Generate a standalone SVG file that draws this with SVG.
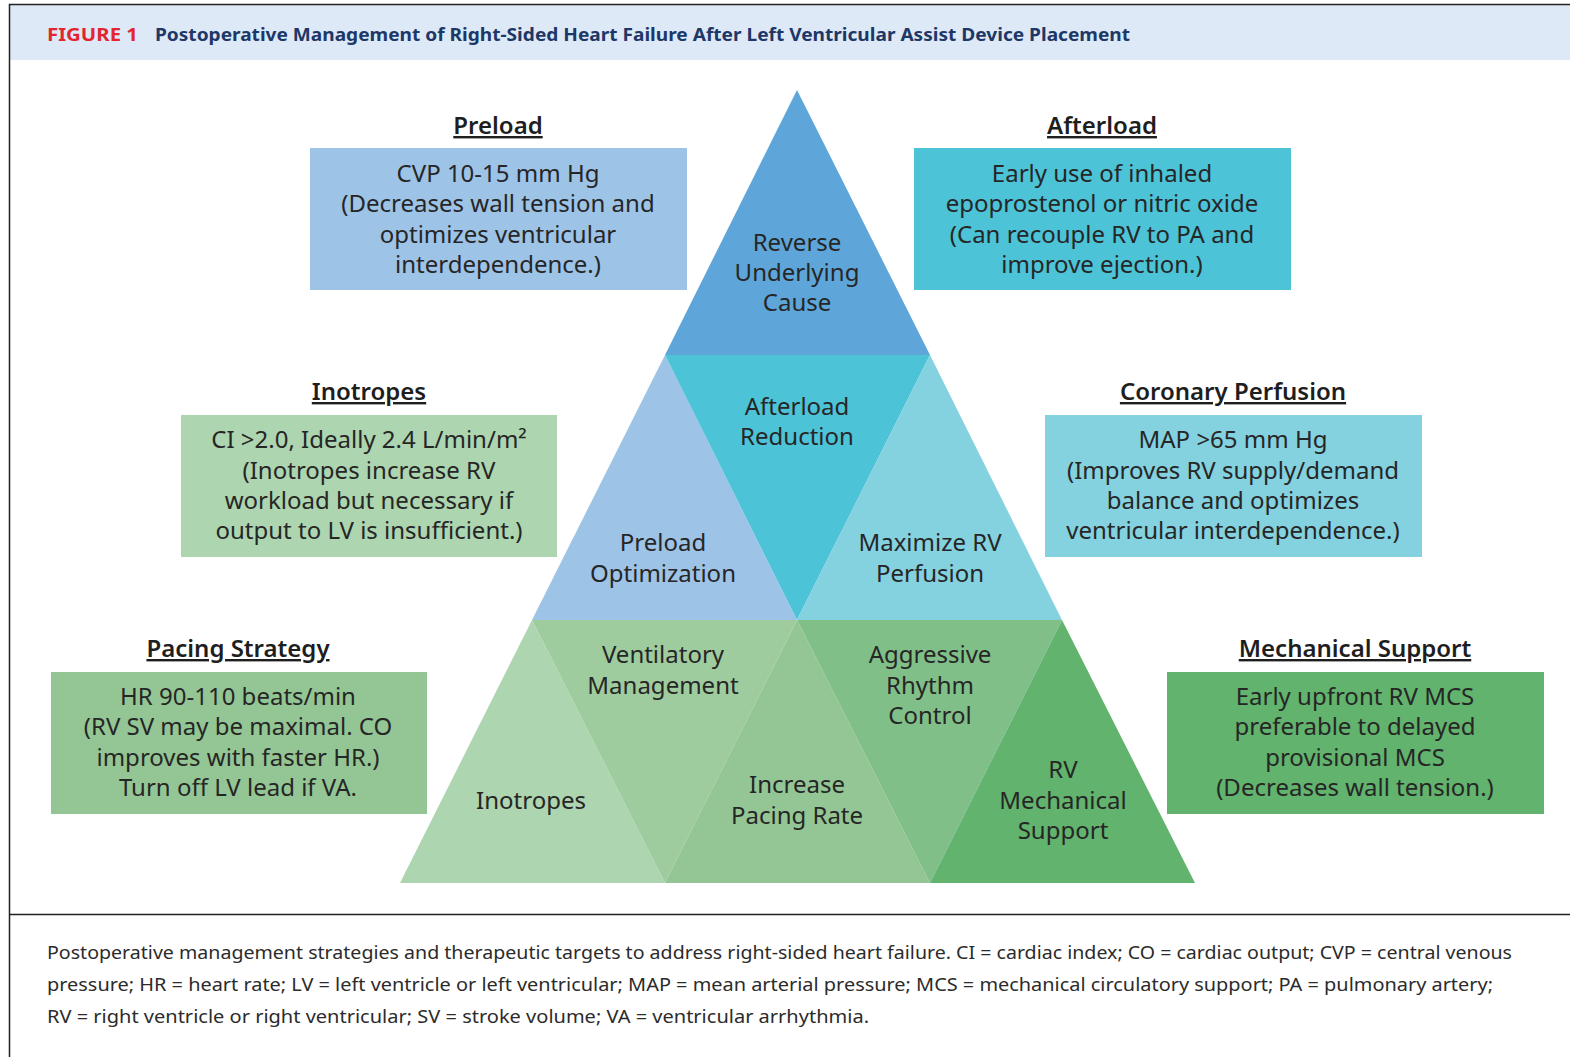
<svg xmlns="http://www.w3.org/2000/svg" width="1570" height="1057" viewBox="0 0 1570 1057">
  <style>
    .lbl { font-family: "Noto Sans", "Open Sans", "Liberation Sans", sans-serif; font-size: 24px; fill: #262626; text-anchor: middle; }
    .head { font-family: "Noto Sans", "Open Sans", "Liberation Sans", sans-serif; font-size: 24px; font-weight: 600; fill: #1e1e1e; text-anchor: middle; text-decoration: underline; }
    .cap { font-family: "Noto Sans", "Liberation Sans", sans-serif; font-size: 18px; fill: #2b2b2b; }
    .title { font-family: "Noto Sans", "Liberation Sans", sans-serif; font-size: 18px; font-weight: 700; }
    .frame { stroke: #222; stroke-width: 1.5; fill: none; }
  </style>

  <rect width="1570" height="1057" fill="#ffffff"/>

  <!-- header band and frame -->
  <rect x="10" y="5" width="1560" height="55" fill="#dde9f6"/>
  <path class="frame" d="M9.5,1057 V4.5 H1570"/>
  <line class="frame" x1="9" y1="914.5" x2="1570" y2="914.5"/>
  <text class="title" x="47" y="41" fill="#e3262e" textLength="91" lengthAdjust="spacingAndGlyphs">FIGURE 1</text>
  <text class="title" x="155" y="41" fill="#1d3767" textLength="975" lengthAdjust="spacingAndGlyphs">Postoperative Management of Right-Sided Heart Failure After Left Ventricular Assist Device Placement</text>

  <!-- pyramid tiers -->
  <g id="tier-reverse-cause">
    <polygon points="797,90 930,355 665,355" fill="#5ea6d9"/>
    <text class="lbl"><tspan x="797" y="251">Reverse</tspan><tspan x="797" y="281">Underlying</tspan><tspan x="797" y="311">Cause</tspan></text>
  </g>
  <g id="tier-preload-optimization">
    <polygon points="665,355 797,620 532,620" fill="#9dc3e7"/>
    <text class="lbl"><tspan x="663" y="551">Preload</tspan><tspan x="663" y="582">Optimization</tspan></text>
  </g>
  <g id="tier-afterload-reduction">
    <polygon points="665,355 930,355 797,620" fill="#4cc3d6"/>
    <text class="lbl"><tspan x="797" y="415">Afterload</tspan><tspan x="797" y="445">Reduction</tspan></text>
  </g>
  <g id="tier-maximize-rv-perfusion">
    <polygon points="930,355 1062,620 797,620" fill="#84d1df"/>
    <text class="lbl"><tspan x="930" y="551">Maximize RV</tspan><tspan x="930" y="582">Perfusion</tspan></text>
  </g>
  <g id="tier-inotropes">
    <polygon points="532,620 665,883 400,883" fill="#acd5b0"/>
    <text class="lbl"><tspan x="531" y="809">Inotropes</tspan></text>
  </g>
  <g id="tier-ventilatory-management">
    <polygon points="532,620 797,620 665,883" fill="#9fcc9f"/>
    <text class="lbl"><tspan x="663" y="663">Ventilatory</tspan><tspan x="663" y="694">Management</tspan></text>
  </g>
  <g id="tier-increase-pacing-rate">
    <polygon points="797,620 930,883 665,883" fill="#93c694"/>
    <text class="lbl"><tspan x="797" y="793">Increase</tspan><tspan x="797" y="824">Pacing Rate</tspan></text>
  </g>
  <g id="tier-aggressive-rhythm-control">
    <polygon points="797,620 1062,620 930,883" fill="#81bf88"/>
    <text class="lbl"><tspan x="930" y="663">Aggressive</tspan><tspan x="930" y="694">Rhythm</tspan><tspan x="930" y="724">Control</tspan></text>
  </g>
  <g id="tier-rv-mechanical-support">
    <polygon points="1062,620 1195,883 930,883" fill="#61b36d"/>
    <text class="lbl"><tspan x="1063" y="778">RV</tspan><tspan x="1063" y="809">Mechanical</tspan><tspan x="1063" y="839">Support</tspan></text>
  </g>

  <!-- target boxes -->
  <g id="box-preload">
    <text class="head" x="498" y="134">Preload</text>
    <rect x="310" y="148" width="377" height="142" fill="#9dc3e7"/>
    <text class="lbl"><tspan x="498" y="182">CVP 10-15 mm Hg</tspan><tspan x="498" y="212">(Decreases wall tension and</tspan><tspan x="498" y="243">optimizes ventricular</tspan><tspan x="498" y="273">interdependence.)</tspan></text>
  </g>
  <g id="box-afterload">
    <text class="head" x="1102" y="134">Afterload</text>
    <rect x="914" y="148" width="377" height="142" fill="#4cc3d6"/>
    <text class="lbl"><tspan x="1102" y="182">Early use of inhaled</tspan><tspan x="1102" y="212">epoprostenol or nitric oxide</tspan><tspan x="1102" y="243">(Can recouple RV to PA and</tspan><tspan x="1102" y="273">improve ejection.)</tspan></text>
  </g>
  <g id="box-inotropes">
    <text class="head" x="369" y="400">Inotropes</text>
    <rect x="181" y="415" width="376" height="142" fill="#acd5b0"/>
    <text class="lbl"><tspan x="369" y="448">CI &gt;2.0, Ideally 2.4 L/min/m²</tspan><tspan x="369" y="479">(Inotropes increase RV</tspan><tspan x="369" y="509">workload but necessary if</tspan><tspan x="369" y="539">output to LV is insufficient.)</tspan></text>
  </g>
  <g id="box-coronary-perfusion">
    <text class="head" x="1233" y="400">Coronary Perfusion</text>
    <rect x="1045" y="415" width="377" height="142" fill="#84d1df"/>
    <text class="lbl"><tspan x="1233" y="448">MAP &gt;65 mm Hg</tspan><tspan x="1233" y="479">(Improves RV supply/demand</tspan><tspan x="1233" y="509">balance and optimizes</tspan><tspan x="1233" y="539">ventricular interdependence.)</tspan></text>
  </g>
  <g id="box-pacing-strategy">
    <text class="head" x="238" y="657">Pacing Strategy</text>
    <rect x="51" y="672" width="376" height="142" fill="#93c694"/>
    <text class="lbl"><tspan x="238" y="705">HR 90-110 beats/min</tspan><tspan x="238" y="735">(RV SV may be maximal. CO</tspan><tspan x="238" y="766">improves with faster HR.)</tspan><tspan x="238" y="796">Turn off LV lead if VA.</tspan></text>
  </g>
  <g id="box-mechanical-support">
    <text class="head" x="1355" y="657">Mechanical Support</text>
    <rect x="1167" y="672" width="377" height="142" fill="#61b36d"/>
    <text class="lbl"><tspan x="1355" y="705">Early upfront RV MCS</tspan><tspan x="1355" y="735">preferable to delayed</tspan><tspan x="1355" y="766">provisional MCS</tspan><tspan x="1355" y="796">(Decreases wall tension.)</tspan></text>
  </g>

  <!-- caption -->
  <g id="caption">
    <text class="cap" x="47" y="959" textLength="1465" lengthAdjust="spacingAndGlyphs">Postoperative management strategies and therapeutic targets to address right-sided heart failure. CI = cardiac index; CO = cardiac output; CVP = central venous</text>
    <text class="cap" x="47" y="991" textLength="1446" lengthAdjust="spacingAndGlyphs">pressure; HR = heart rate; LV = left ventricle or left ventricular; MAP = mean arterial pressure; MCS = mechanical circulatory support; PA = pulmonary artery;</text>
    <text class="cap" x="47" y="1023" textLength="822" lengthAdjust="spacingAndGlyphs">RV = right ventricle or right ventricular; SV = stroke volume; VA = ventricular arrhythmia.</text>
  </g>
</svg>
